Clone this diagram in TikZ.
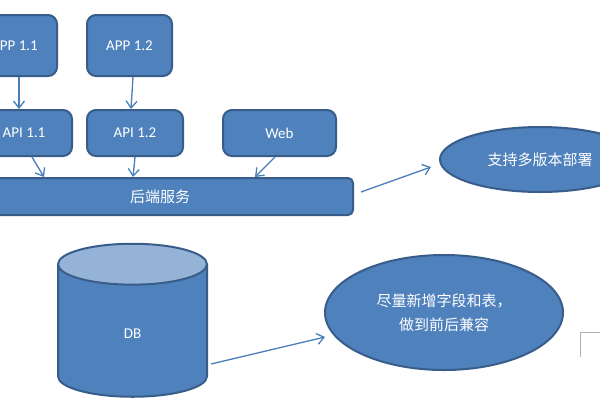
\documentclass[tikz,border=0pt]{standalone}
\usepackage{fontspec}
\setmainfont{Carlito}
\newfontfamily\cjk{Noto Sans CJK SC}
\usetikzlibrary{shapes.geometric,arrows.meta}
\definecolor{boxfill}{HTML}{4F81BD}
\definecolor{boxline}{HTML}{385D8A}
\definecolor{arrline}{HTML}{4A7EBB}
\definecolor{dbtop}{HTML}{95B3D7}
\tikzset{
  box/.style={draw=boxline,fill=boxfill,line width=2pt,rounded corners=9pt,text=white,font=\fontsize{15}{17}\selectfont},
  oval/.style={ellipse,draw=boxline,fill=boxfill,line width=2pt,text=white,align=center,inner sep=0pt,font=\cjk\fontsize{15}{21}\selectfont},
  arr/.style={draw=arrline,line width=1.3pt,-{Straight Barb[length=7pt,width=11pt]}}
}
\begin{document}
\begin{tikzpicture}[x=1pt,y=-1pt]
  \clip (0,0) rectangle (600,400);
  \fill[white] (0,0) rectangle (600,400);
  \node[box,minimum width=85pt,minimum height=61pt] (app11) at (14.5,45.5) {APP 1.1};
  \node[box,minimum width=85pt,minimum height=61pt] (app12) at (129.5,45.5) {APP 1.2};
  \node[box,minimum width=96pt,minimum height=46pt] (api11) at (24,133) {API 1.1};
  \node[box,minimum width=96pt,minimum height=46pt] (api12) at (135,133) {API 1.2};
  \node[box,minimum width=113pt,minimum height=46pt] (web) at (279.5,133) {Web};
  \node[box,rounded corners=5pt,minimum width=386pt,minimum height=37pt,font=\cjk\fontsize{15}{18}\selectfont] (backend) at (160,196.5) {后端服务};
  \node[oval,minimum width=200pt,minimum height=65pt] (deploy) at (540,159.5) {支持多版本部署};
  \node[oval,minimum width=238pt,minimum height=115pt,font=\cjk\fontsize{15}{24}\selectfont] (compat) at (444,312.5) {尽量新增字段和表，\\做到前后兼容};
  \node[cylinder,shape border rotate=90,aspect=1.7,draw=boxline,line width=2pt,
        cylinder uses custom fill,cylinder body fill=boxfill,cylinder end fill=dbtop,
        minimum width=149pt,minimum height=153pt,text=white,font=\fontsize{15}{17}\selectfont] (db) at (132.5,334) {DB};
  % connectors
  \draw[arr] ([xshift=4.5pt]app11.south) -- ([xshift=-5pt]api11.north);
  \draw[arr] ([xshift=3.5pt]app12.south) -- ([xshift=-4pt]api12.north);
  \draw[arr] ([xshift=8pt]api11.south) -- ([xshift=-116pt]backend.north);
  \draw[arr] (api12.south) -- ([xshift=-27pt]backend.north);
  \draw[arr] ([xshift=-4.5pt]web.south) -- ([xshift=95pt]backend.north);
  \draw[arr] ([xshift=7pt,yshift=4.5pt]backend.east) -- ([xshift=-8pt,yshift=-7.5pt]deploy.west);
  \draw[arr] ([xshift=78.5pt,yshift=-30pt]db.center) -- ([xshift=1pt,yshift=-24.5pt]compat.west);
  \draw[gray!60,line width=0.6pt] (600,332) -- (580,332) -- (580,357);
\end{tikzpicture}
\end{document}
